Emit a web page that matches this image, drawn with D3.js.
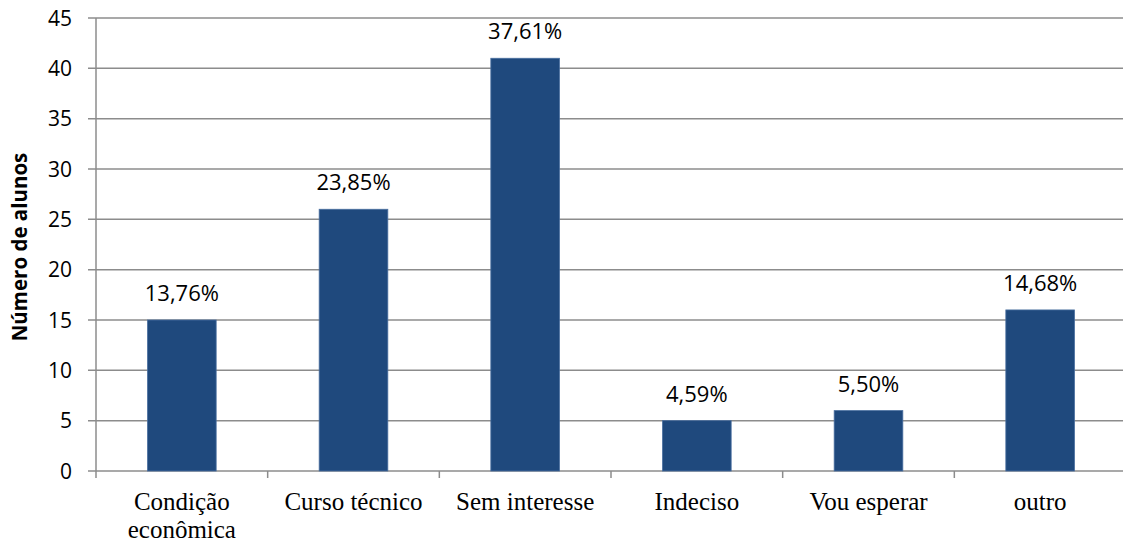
<!DOCTYPE html>
<html><head><meta charset="utf-8">
<script src="https://cdn.jsdelivr.net/npm/d3@7"></script>
<style>body{margin:0;background:#fff}svg{display:block}</style>
</head><body>
<svg id="c" width="1123" height="544"></svg>
<script>
const categories = [["Condição","econômica"],["Curso técnico"],["Sem interesse"],["Indeciso"],["Vou esperar"],["outro"]];
const values = [15, 26, 41, 5, 6, 16];
const labels = ["13,76%","23,85%","37,61%","4,59%","5,50%","14,68%"];
const yTicks = [0,5,10,15,20,25,30,35,40,45];

const svg = d3.select("#c");
const m = {l:96, r:1126, t:18, b:471};
const keys = categories.map((c,i)=>i);
const x = d3.scaleBand().domain(keys).range([m.l, m.r]).paddingInner(0.6).paddingOuter(0.3);
const xb = d3.scaleBand().domain(keys).range([m.l, m.r]);
const y = d3.scaleLinear().domain([0,45]).range([m.b, m.t]);
const gridC = "#8c8c8c";

// gridlines
svg.append("g").selectAll("line").data(yTicks).join("line")
  .attr("x1", m.l-8).attr("x2", m.r)
  .attr("y1", d=>y(d)).attr("y2", d=>y(d))
  .attr("stroke", gridC).attr("stroke-width", 1.5);

// y axis line
svg.append("line").attr("x1", m.l).attr("x2", m.l).attr("y1", m.t).attr("y2", m.b+7)
  .attr("stroke", gridC).attr("stroke-width", 1.5);
// x category ticks
svg.append("g").selectAll("line").data(keys.slice(1)).join("line")
  .attr("x1", d=>xb(d)).attr("x2", d=>xb(d)).attr("y1", m.b).attr("y2", m.b+7)
  .attr("stroke", gridC).attr("stroke-width", 1.5);

// y tick labels
svg.append("g").selectAll("text").data(yTicks).join("text")
  .attr("x", 72).attr("y", d=>y(d)).attr("dy","0.36em").attr("text-anchor","end")
  .attr("font-family","'Open Sans', sans-serif").attr("font-size", 21).attr("fill","#000")
  .text(d=>d);

// y title
svg.append("text").attr("transform","translate(27,247) rotate(-90)")
  .attr("text-anchor","middle").attr("font-family","'Open Sans', sans-serif")
  .attr("font-weight","bold").attr("font-size",20.5).text("Número de alunos");

// bars
svg.append("g").selectAll("rect").data(values).join("rect")
  .attr("x",(d,i)=>x(i)).attr("width", x.bandwidth())
  .attr("y", d=>y(d)).attr("height", d=>y(0)-y(d))
  .attr("fill","#1f497d").attr("stroke","#4a6fa0").attr("stroke-width",0.8);

// data labels
svg.append("g").selectAll("text").data(values).join("text")
  .attr("x",(d,i)=>x(i)+x.bandwidth()/2).attr("y", d=>y(d)-19)
  .attr("text-anchor","middle").attr("font-family","'Open Sans', sans-serif")
  .attr("font-size",22).attr("fill","#000").text((d,i)=>labels[i]);

// x labels (one text element per line)
const xg = svg.append("g");
categories.forEach((lines,i)=>{
  lines.forEach((line,j)=>{
    xg.append("text")
      .attr("x", x(i)+x.bandwidth()/2).attr("y", 510 + j*28)
      .attr("text-anchor","middle").attr("font-family","'Liberation Serif', serif")
      .attr("font-size",25).attr("fill","#000").text(line);
  });
});
</script>
</body></html>
